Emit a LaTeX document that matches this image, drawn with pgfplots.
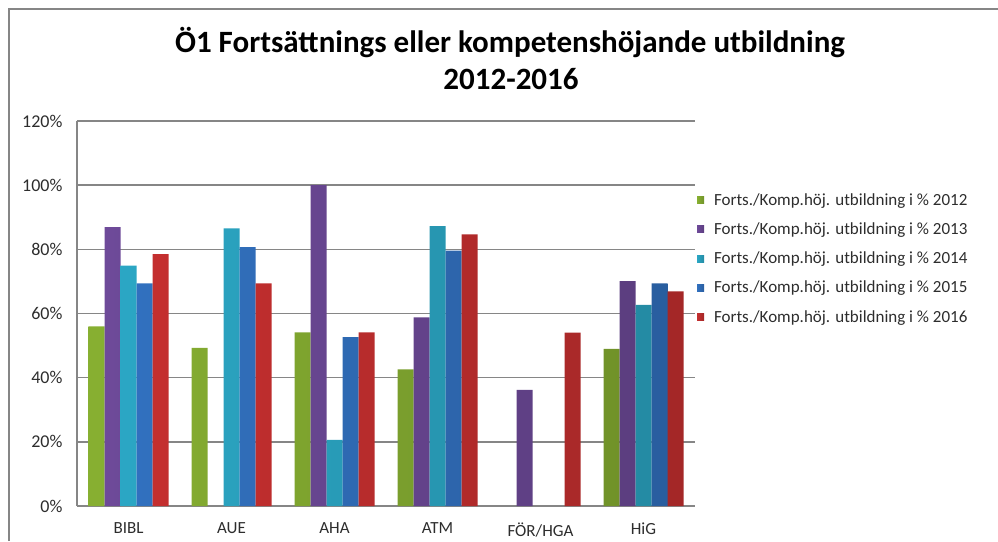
\documentclass[border=0pt]{standalone}
\usepackage{pgfplots}
\pgfplotsset{compat=1.18}
\usepackage{fontspec}
\setmainfont{Carlito}
\definecolor{cA}{RGB}{150,195,55}
\definecolor{cB}{RGB}{122,82,170}
\definecolor{cC}{RGB}{48,185,218}
\definecolor{cD}{RGB}{55,125,212}
\definecolor{cE}{RGB}{218,52,52}
\definecolor{gridc}{RGB}{134,134,134}
\definecolor{txt}{RGB}{45,45,45}
\pgfplotsset{
  barsh/.style={draw=none, left color=#1!90!black, middle color=#1!72!white, right color=#1!75!black},
}
\begin{document}
\begin{tikzpicture}[x=1pt,y=1pt]
\useasboundingbox (0,0) rectangle (998,541);
\draw[gridc, line width=1.6pt] (9,0) -- (9,532) -- (998,532);
\node[font=\fontsize{31}{36}\selectfont\bfseries, anchor=base, text=black, inner sep=0pt] at (510,488) {Ö1 Fortsättnings eller kompetenshöjande utbildning};
\node[font=\fontsize{31}{36}\selectfont\bfseries, anchor=base, text=black, inner sep=0pt] at (511,451) {2012-2016};
\begin{axis}[
  at={(77pt,35pt)}, anchor=south west,
  scale only axis, width=618pt, height=385pt,
  ybar=0pt, bar width=16pt,
  xmin=-0.5, xmax=5.5, ymin=0, ymax=120,
  xtick={0,1,2,3,4,5},
  xticklabels={BIBL,AUE,AHA,ATM,FÖR/HGA,HiG},
  ytick={0,20,40,60,80,100,120},
  yticklabel={\pgfmathprintnumber{\tick}\%},
  /pgf/number format/assume math mode=true,
  major tick length=0pt,
  ymajorgrids,
  grid style={gridc, line width=1.5pt},
  axis line style={gridc, line width=1.5pt},
  axis x line*=bottom, axis y line*=left,
  tick label style={font=\fontsize{17}{19}\selectfont, text=txt},
  yticklabel style={xshift=-11pt, font=\fontsize{18}{20}\selectfont},
  xticklabel style={yshift=-13pt},
  legend cell align=left,
  legend style={at={(1.003,0.818)}, anchor=north west, draw=none, fill=none,
    font=\fontsize{17}{19}\selectfont, text=txt, row sep=12pt, inner sep=0pt},
  legend image code/.code={\fill[#1] (0pt,-3.5pt) rectangle (7pt,3.5pt); \path (0pt,0pt) -- (15pt,0pt);},
]
\addplot[barsh=cA] coordinates {(0,56) (1,49.3) (2,54.1) (3,42.6) (5,49)};
\addplot[barsh=cB] coordinates {(0,86.9) (2,100) (3,58.8) (4,36.2) (5,70.1)};
\addplot[barsh=cC] coordinates {(0,74.9) (1,86.5) (2,20.6) (3,87.2) (5,62.7)};
\addplot[barsh=cD] coordinates {(0,69.4) (1,80.7) (2,52.6) (3,79.6) (5,69.4)};
\addplot[barsh=cE] coordinates {(0,78.5) (1,69.4) (2,54.1) (3,84.7) (4,54) (5,66.9)};
\legend{Forts./Komp.höj. utbildning i \% 2012,Forts./Komp.höj. utbildning i \% 2013,Forts./Komp.höj. utbildning i \% 2014,Forts./Komp.höj. utbildning i \% 2015,Forts./Komp.höj. utbildning i \% 2016}
\end{axis}
\end{tikzpicture}
\end{document}
